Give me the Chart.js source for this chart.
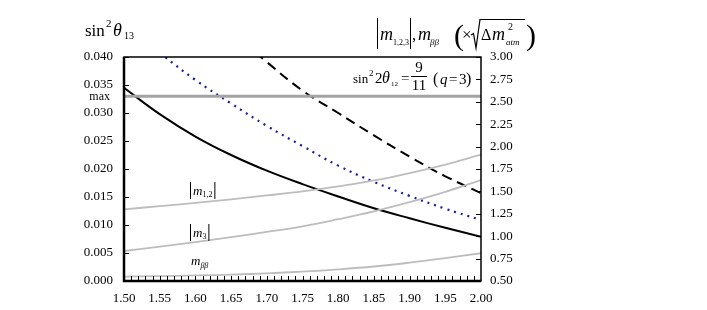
<!DOCTYPE html>
<html><head><meta charset="utf-8">
<script src="https://cdn.jsdelivr.net/npm/chart.js@4.4.0/dist/chart.umd.min.js"></script>
<style>html,body{margin:0;padding:0;background:#fff}#wrap{width:707px;height:310px}</style>
</head><body><div id="wrap"><canvas id="c" width="707" height="310"></canvas></div>
<script>
// x values (same for all curves)
var xVals       = [1.50, 1.55, 1.60, 1.65, 1.70, 1.75, 1.80, 1.85, 1.90, 1.95, 2.00];
// left axis curves (sin^2 theta13)
var solidBlack  = [0.0345, 0.0298, 0.0258, 0.0225, 0.0197, 0.0173, 0.0151, 0.0130, 0.0112, 0.0095, 0.0079];
var dottedBlue  = [null, 0.0407, 0.0359, 0.0317, 0.0277, 0.0241, 0.0206, 0.0177, 0.0152, 0.0129, 0.0109];
var dashedBlack = [null, null, null, 0.0445, 0.0391, 0.0340, 0.0300, 0.0260, 0.0222, 0.0187, 0.0157];
// right axis curves (masses)
var absM12      = [1.30, 1.335, 1.372, 1.412, 1.455, 1.50, 1.555, 1.622, 1.705, 1.80, 1.91];
var absM3       = [0.835, 0.883, 0.935, 0.99, 1.048, 1.11, 1.19, 1.278, 1.38, 1.495, 1.627];
var mBetaBeta   = [0.548, 0.554, 0.562, 0.572, 0.586, 0.605, 0.63, 0.662, 0.705, 0.755, 0.81];
var maxSin13    = 0.033;
// ticks
var xTicks      = [1.50, 1.55, 1.60, 1.65, 1.70, 1.75, 1.80, 1.85, 1.90, 1.95, 2.00];
var xMinorStep  = 0.01;
var leftTicks   = [0, 0.005, 0.010, 0.015, 0.020, 0.025, 0.030, 0.035, 0.040];
var rightTicks  = [0.50, 0.75, 1.00, 1.25, 1.50, 1.75, 2.00, 2.25, 2.50, 2.75, 3.00];

var SERIF = '"Liberation Serif", "Times New Roman", serif';

function pts(arr){
	var out = [];
	for (var i = 0; i < xVals.length; i++) {
		out.push({x: xVals[i], y: arr[i]});
	}
	return out;
}

function txt(ctx, s, x, y, size, italic, align){
	ctx.font = (italic ? 'italic ' : '') + size + 'px ' + SERIF;
	ctx.textAlign = align || 'left';
	ctx.textBaseline = 'alphabetic';
	ctx.fillText(s, x, y);
	return x + ctx.measureText(s).width;
}

function vbar(ctx, x, y1, y2){
	ctx.lineWidth = 1;
	ctx.beginPath(); ctx.moveTo(x + 0.5, y1); ctx.lineTo(x + 0.5, y2); ctx.stroke();
}

var decorPlugin = {
	id: 'decor',
	afterDraw: function(chart){
		var ctx = chart.ctx, a = chart.chartArea;
		var sx = chart.scales.x, yl = chart.scales.yL, yr = chart.scales.yR;
		ctx.save();
		ctx.strokeStyle = '#000';
		ctx.fillStyle = '#000';
		// inward ticks
		ctx.lineWidth = 1;
		ctx.beginPath();
		var n = Math.round((sx.max - sx.min) / xMinorStep);
		for (var i = 1; i < n; i++) {
			var px = Math.round(sx.getPixelForValue(sx.min + i * xMinorStep)) + 0.5;
			ctx.moveTo(px, a.bottom); ctx.lineTo(px, a.bottom - 5);
		}
		leftTicks.forEach(function(v){
			var py = Math.round(yl.getPixelForValue(v)) + 0.5;
			ctx.moveTo(a.left, py); ctx.lineTo(a.left + 5, py);
		});
		rightTicks.forEach(function(v){
			var py = Math.round(yr.getPixelForValue(v)) + 0.5;
			ctx.moveTo(a.right, py); ctx.lineTo(a.right - 5, py);
		});
		ctx.stroke();
		// frame
		ctx.lineWidth = 1.5;
		ctx.strokeRect(a.left, a.top, a.right - a.left, a.bottom - a.top);
		ctx.lineWidth = 2.5;
		ctx.beginPath();
		ctx.moveTo(a.left, a.top); ctx.lineTo(a.left, a.bottom); ctx.lineTo(a.right, a.bottom);
		ctx.stroke();

		// left title  sin^2 theta13
		txt(ctx, 'sin', 85, 36, 17, false);
		txt(ctx, '2', 106, 27, 11, false);
		txt(ctx, '\u03B8', 113, 36, 18, true);
		txt(ctx, '13', 124, 39, 10, false);

		// max label
		txt(ctx, 'max', 110, 100, 12, false, 'right');

		// inside annotation sin^2 2theta12 = 9/11 (q=3)
		txt(ctx, 'sin', 353, 83, 13, false);
		txt(ctx, '2', 369, 76, 9, false);
		txt(ctx, '2', 375, 83, 15, false);
		txt(ctx, '\u03B8', 382, 83, 16, true);
		txt(ctx, '12', 391, 86, 7, false);
		txt(ctx, '=', 401, 83, 15, false);
		txt(ctx, '9', 419, 72, 15, false, 'center');
		ctx.lineWidth = 1;
		ctx.beginPath(); ctx.moveTo(411, 76.5); ctx.lineTo(427, 76.5); ctx.stroke();
		txt(ctx, '11', 419, 90, 15, false, 'center');
		txt(ctx, '(', 433, 84, 16, false);
		txt(ctx, 'q', 440, 84, 15, true);
		txt(ctx, '=', 449, 84, 15, false);
		txt(ctx, '3', 459, 84, 15, false);
		txt(ctx, ')', 466, 84, 16, false);

		// right title |m1,2,3|, m_bb (x sqrt(dm^2_atm))
		vbar(ctx, 377, 18, 49);
		txt(ctx, 'm', 380, 40, 18, true);
		txt(ctx, '1,2,3', 393, 45, 8, false);
		vbar(ctx, 410, 18, 49);
		txt(ctx, ',', 412, 40, 17, false);
		txt(ctx, 'm', 418, 40, 18, true);
		txt(ctx, '\u03B2\u03B2', 430, 45, 9, true);
		txt(ctx, '(', 454, 45, 30, false);
		txt(ctx, '\u00D7', 462, 40, 17, false);
		// sqrt sign
		ctx.lineWidth = 1.2;
		ctx.beginPath();
		ctx.moveTo(471, 35); ctx.lineTo(473.5, 33.5); ctx.lineTo(476, 48); ctx.lineTo(480, 19.5); ctx.lineTo(525, 19.5);
		ctx.stroke();
		txt(ctx, '\u0394', 481, 40, 16, false);
		txt(ctx, 'm', 492, 40, 18, true);
		txt(ctx, '2', 508, 30, 10, false);
		txt(ctx, 'atm', 506, 45, 9, true);
		txt(ctx, ')', 526, 45, 30, false);

		// curve labels
		function absLabel(sub, lx, ly){
			vbar(ctx, lx, ly - 13, ly + 4);
			var e = txt(ctx, 'm', lx + 3, ly, 13, true);
			e = txt(ctx, sub, e, ly + 2, 8, false);
			vbar(ctx, e + 2, ly - 13, ly + 4);
		}
		absLabel('1,2', 190, 195);
		absLabel('3', 190, 237);
		var e = txt(ctx, 'm', 191, 265, 13, true);
		txt(ctx, '\u03B2\u03B2', e, 268, 8, true);
		ctx.restore();
	}
};

var tickFont = {family: SERIF, size: 13};

new Chart(document.getElementById('c'), {
	type: 'line',
	data: {
		datasets: [
			{ label: 'max', data: [{x: 1.5, y: maxSin13}, {x: 2.0, y: maxSin13}], yAxisID: 'yL',
			  borderColor: '#a3a3a3', borderWidth: 3, pointRadius: 0 },
			{ label: '|m12|', data: pts(absM12), yAxisID: 'yR', borderColor: '#bdbdbd', borderWidth: 1.8, pointRadius: 0, tension: 0.4 },
			{ label: '|m3|', data: pts(absM3), yAxisID: 'yR', borderColor: '#bdbdbd', borderWidth: 1.8, pointRadius: 0, tension: 0.4 },
			{ label: 'mbb', data: pts(mBetaBeta), yAxisID: 'yR', borderColor: '#bdbdbd', borderWidth: 1.8, pointRadius: 0, tension: 0.4 },
			{ label: 'dotted', data: pts(dottedBlue), yAxisID: 'yL', borderColor: '#1c1c9c', borderWidth: 2.2, borderDash: [2, 5], pointRadius: 0, tension: 0.4 },
			{ label: 'dashed', data: pts(dashedBlack), yAxisID: 'yL', borderColor: '#000', borderWidth: 2, borderDash: [10, 6], pointRadius: 0, tension: 0.4 },
			{ label: 'solid', data: pts(solidBlack), yAxisID: 'yL', borderColor: '#000', borderWidth: 2, pointRadius: 0, tension: 0.4 }
		]
	},
	options: {
		responsive: false,
		animation: false,
		devicePixelRatio: 1,
		layout: { padding: { top: 57, right: 166, left: 0, bottom: 0 } },
		plugins: { legend: { display: false }, tooltip: { enabled: false } },
		scales: {
			x: {
				type: 'linear', min: 1.5, max: 2.0,
				grid: { display: false }, border: { display: false },
				afterBuildTicks: function(s){ s.ticks = xTicks.map(function(v){ return {value: v}; }); },
				afterFit: function(s){ s.height = 29; },
				ticks: { autoSkip: false, maxRotation: 0, padding: 2, color: '#000', font: tickFont,
					callback: function(v){ return Number(v).toFixed(2); } }
			},
			yL: {
				position: 'left', min: 0, max: 0.04,
				grid: { display: false }, border: { display: false },
				afterBuildTicks: function(s){ s.ticks = leftTicks.map(function(v){ return {value: v}; }); },
				afterFit: function(s){ s.width = 124; },
				ticks: { padding: 3, color: '#000', font: tickFont,
					callback: function(v){ return Number(v).toFixed(3); } }
			},
			yR: {
				position: 'right', min: 0.5, max: 3.0,
				grid: { display: false }, border: { display: false },
				afterBuildTicks: function(s){ s.ticks = rightTicks.map(function(v){ return {value: v}; }); },
				afterFit: function(s){ s.width = 60; },
				ticks: { padding: 1, color: '#000', font: tickFont,
					callback: function(v){ return Number(v).toFixed(2); } }
			}
		}
	},
	plugins: [decorPlugin]
});
</script>
</body></html>
